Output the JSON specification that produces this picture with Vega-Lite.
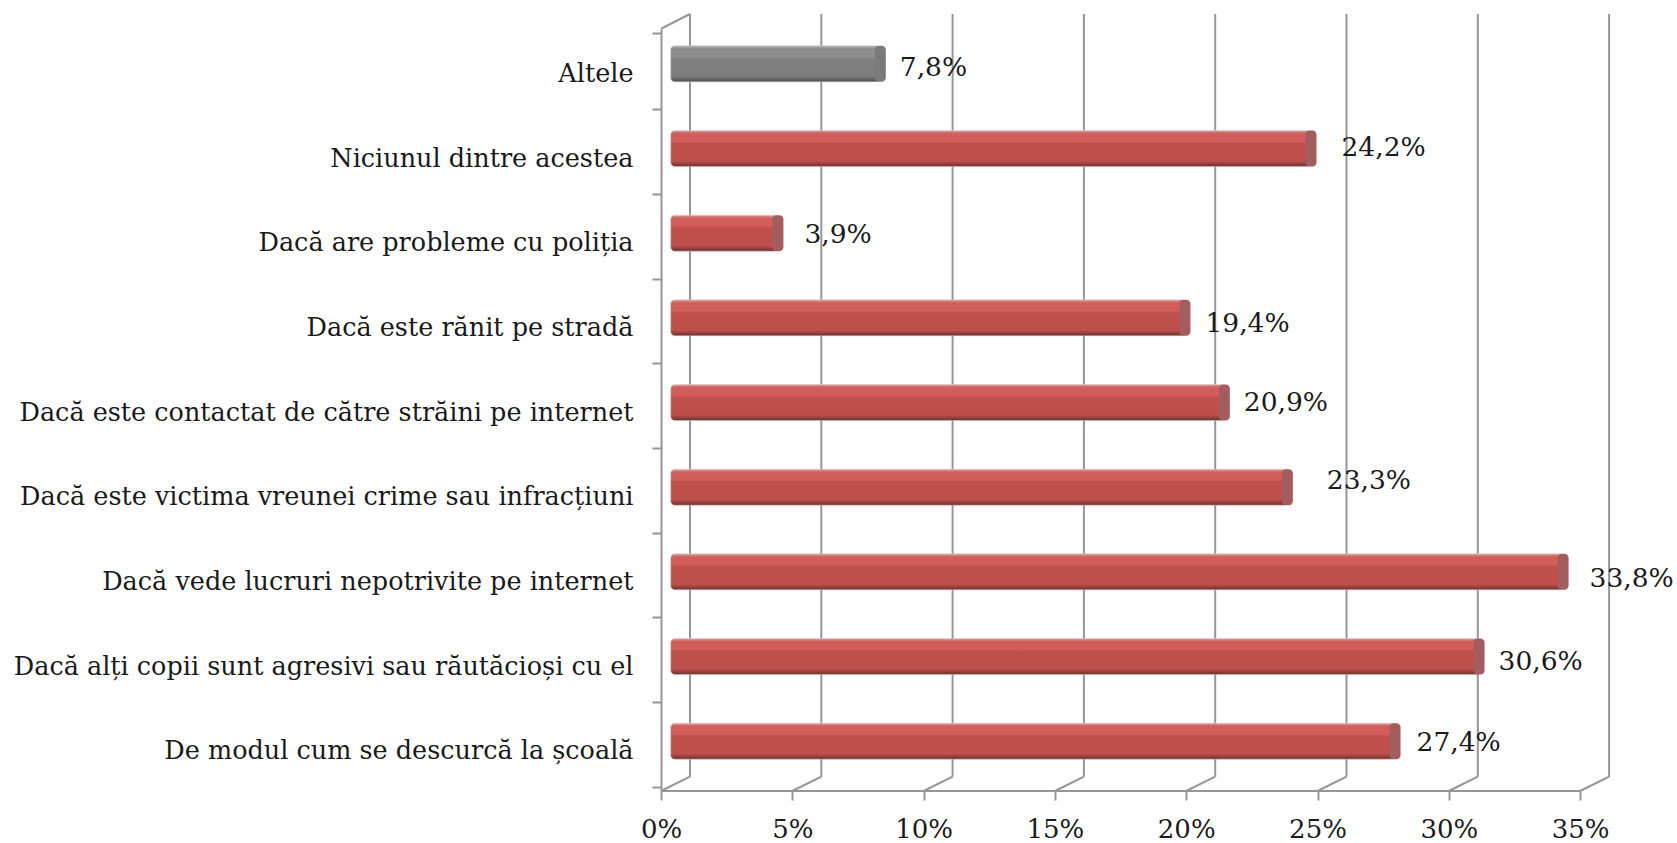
{"$schema":"https://vega.github.io/schema/vega-lite/v6.json","width":948,"height":777,"autosize":{"type":"none"},"padding":{"left":661,"top":14,"right":68,"bottom":52},"background":"white","config":{"view":{"stroke":null}},
"datasets":{"bars":[{"cat":"Altele","value":7.8,"label":"7,8%","kind":"other"},{"cat":"Niciunul dintre acestea","value":24.2,"label":"24,2%","kind":"main"},{"cat":"Dacă are probleme cu poliția","value":3.9,"label":"3,9%","kind":"main"},{"cat":"Dacă este rănit pe stradă","value":19.4,"label":"19,4%","kind":"main"},{"cat":"Dacă este contactat de către străini pe internet","value":20.9,"label":"20,9%","kind":"main"},{"cat":"Dacă este victima vreunei crime sau infracțiuni","value":23.3,"label":"23,3%","kind":"main"},{"cat":"Dacă vede lucruri nepotrivite pe internet","value":33.8,"label":"33,8%","kind":"main"},{"cat":"Dacă alți copii sunt agresivi sau răutăcioși cu el","value":30.6,"label":"30,6%","kind":"main"},{"cat":"De modul cum se descurcă la școală","value":27.4,"label":"27,4%","kind":"main"}],"ticks":[{"v":0},{"v":5},{"v":10},{"v":15},{"v":20},{"v":25},{"v":30},{"v":35}]},
"resolve":{"scale":{"y":"independent"}},
"layer":[
{"data":{"name":"ticks"},"mark":{"type":"rule","color":"#969696","strokeWidth":2,"xOffset":29,"yOffset":-14.3},"encoding":{"x":{"field":"v","type":"quantitative","scale":{"domain":[0,36.1],"nice":false,"zero":false},"axis":{"values":[0,5,10,15,20,25,30,35],"labelExpr":"datum.value+'%'","domain":false,"grid":false,"tickColor":"#969696","tickWidth":2,"tickSize":9,"labelFont":"DejaVu Serif","labelFontSize":26,"labelColor":"#1a1a1a","labelPadding":16,"labelFlush":false,"labelOverlap":false,"title":null}},"y":{"datum":0,"type":"quantitative","scale":{"domain":[0,1],"nice":false},"axis":null},"y2":{"datum":1}}},
{"data":{"name":"ticks"},"mark":{"type":"rule","color":"#969696","strokeWidth":2,"x2Offset":29,"y2Offset":-14.3},"encoding":{"x":{"field":"v","type":"quantitative"},"x2":{"field":"v"},"y":{"datum":0,"type":"quantitative","scale":{"domain":[0,1],"nice":false},"axis":null},"y2":{"datum":0}}},
{"data":{"name":"ticks"},"mark":{"type":"rule","color":"#969696","strokeWidth":2},"transform":[{"aggregate":[{"op":"min","field":"v","as":"lo"},{"op":"max","field":"v","as":"hi"}]}],"encoding":{"x":{"field":"lo","type":"quantitative"},"x2":{"field":"hi"},"y":{"datum":0,"type":"quantitative","scale":{"domain":[0,1],"nice":false},"axis":null}}},
{"data":{"name":"ticks"},"transform":[{"filter":"datum.v===0"}],"mark":{"type":"rule","color":"#969696","strokeWidth":2,"x2Offset":29},"encoding":{"x":{"field":"v","type":"quantitative"},"x2":{"field":"v"},"y":{"datum":0.981,"type":"quantitative","scale":{"domain":[0,1],"nice":false},"axis":null},"y2":{"datum":1}}},
{"data":{"name":"bars"},"encoding":{"x":{"field":"value","type":"quantitative"},"y":{"field":"cat","type":"nominal","sort":null,"scale":{"type":"band","range":[15,777],"domain":["Altele","Niciunul dintre acestea","Dacă are probleme cu poliția","Dacă este rănit pe stradă","Dacă este contactat de către străini pe internet","Dacă este victima vreunei crime sau infracțiuni","Dacă vede lucruri nepotrivite pe internet","Dacă alți copii sunt agresivi sau răutăcioși cu el","De modul cum se descurcă la școală"]},"axis":{"title":null,"domainColor":"#969696","domainWidth":2,"tickColor":"#969696","tickWidth":2,"tickSize":9,"tickBand":"extent","labelFont":"DejaVu Serif","labelFontSize":25.5,"labelColor":"#1a1a1a","labelPadding":19,"labelOffset":2,"labelLimit":700}}},
"layer":[
{"transform":[{"filter":"datum.kind==='main'"}],"mark":{"type":"bar","size":36,"yOffset":-7.5,"xOffset":15,"x2Offset":9.7,"cornerRadius":4,"stroke":"#e0c8c8","strokeWidth":0.5,"fill":{"gradient":"linear","x1":0,"y1":0,"x2":0,"y2":1,"stops":[{"offset":0,"color":"#d9a5a3"},{"offset":0.08,"color":"#d0605d"},{"offset":0.3,"color":"#d45c59"},{"offset":0.36,"color":"#c0504d"},{"offset":0.85,"color":"#bd4f4c"},{"offset":1,"color":"#6f2e2c"}]}},"encoding":{"x2":{"datum":0}}},
{"transform":[{"filter":"datum.kind==='other'"}],"mark":{"type":"bar","size":36,"yOffset":-7.5,"xOffset":15,"x2Offset":9.7,"cornerRadius":4,"stroke":"#c8c8c8","strokeWidth":0.5,"fill":{"gradient":"linear","x1":0,"y1":0,"x2":0,"y2":1,"stops":[{"offset":0,"color":"#b5b5b5"},{"offset":0.08,"color":"#8c8c8c"},{"offset":0.3,"color":"#8e8e8e"},{"offset":0.36,"color":"#808080"},{"offset":0.85,"color":"#7d7d7d"},{"offset":1,"color":"#4a4a4a"}]}},"encoding":{"x2":{"datum":0}}},
{"mark":{"type":"bar","size":36,"yOffset":-7.5,"xOffset":20,"x2Offset":9,"cornerRadius":4},"encoding":{"x2":{"field":"value"},"color":{"field":"kind","type":"nominal","legend":null,"scale":{"domain":["main","other"],"range":["#a05f5e","#7b7b7b"]}}}},
{"transform":[{"filter":"datum.cat==='Altele'"}],"mark":{"type":"text","align":"left","dx":34,"dy":-3.5,"font":"DejaVu Serif","fontSize":26.5,"color":"#1a1a1a"},"encoding":{"text":{"field":"label"}}},
{"transform":[{"filter":"datum.value===24.2"}],"mark":{"type":"text","align":"left","dx":45,"dy":-8.5,"font":"DejaVu Serif","fontSize":26.5,"color":"#1a1a1a"},"encoding":{"text":{"field":"label"}}},
{"transform":[{"filter":"datum.value===3.9"}],"mark":{"type":"text","align":"left","dx":41,"dy":-6,"font":"DejaVu Serif","fontSize":26.5,"color":"#1a1a1a"},"encoding":{"text":{"field":"label"}}},
{"transform":[{"filter":"datum.value===19.4"}],"mark":{"type":"text","align":"left","dx":35,"dy":-1,"font":"DejaVu Serif","fontSize":26.5,"color":"#1a1a1a"},"encoding":{"text":{"field":"label"}}},
{"transform":[{"filter":"datum.value===20.9"}],"mark":{"type":"text","align":"left","dx":34,"dy":-7.5,"font":"DejaVu Serif","fontSize":26.5,"color":"#1a1a1a"},"encoding":{"text":{"field":"label"}}},
{"transform":[{"filter":"datum.value===23.3"}],"mark":{"type":"text","align":"left","dx":54,"dy":-14,"font":"DejaVu Serif","fontSize":26.5,"color":"#1a1a1a"},"encoding":{"text":{"field":"label"}}},
{"transform":[{"filter":"datum.value===33.8"}],"mark":{"type":"text","align":"left","dx":41,"dy":-0.5,"font":"DejaVu Serif","fontSize":26.5,"color":"#1a1a1a"},"encoding":{"text":{"field":"label"}}},
{"transform":[{"filter":"datum.value===30.6"}],"mark":{"type":"text","align":"left","dx":34,"dy":-1.7,"font":"DejaVu Serif","fontSize":26.5,"color":"#1a1a1a"},"encoding":{"text":{"field":"label"}}},
{"transform":[{"filter":"datum.value===27.4"}],"mark":{"type":"text","align":"left","dx":36,"dy":-5.4,"font":"DejaVu Serif","fontSize":26.5,"color":"#1a1a1a"},"encoding":{"text":{"field":"label"}}}
]}
]}
